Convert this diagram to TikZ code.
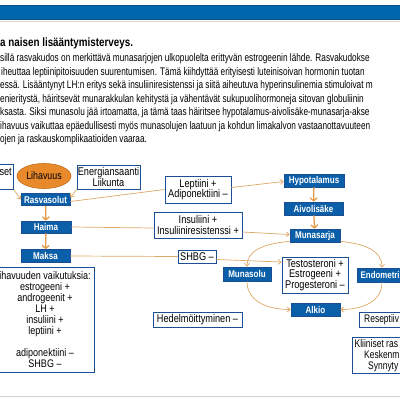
\documentclass[tikz,border=0pt]{standalone}
\usepackage{fontspec}
\setmainfont{Liberation Sans}[FakeStretch=0.82]
\newfontfamily\parafont{Liberation Sans}[FakeStretch=0.75]
\newfontfamily\edgefont{Liberation Sans}[FakeStretch=0.77]
\usetikzlibrary{arrows.meta,shapes.geometric}
\definecolor{bbar}{HTML}{0067AC}
\definecolor{bdark}{HTML}{0A4E8C}
\definecolor{bfill}{HTML}{0B5FA8}
\definecolor{bline}{HTML}{1B4F93}
\definecolor{oarrow}{HTML}{E39B45}
\definecolor{oline}{HTML}{DDA866}
\definecolor{ofill}{HTML}{E8892C}
\definecolor{oedge}{HTML}{C46A12}
\begin{document}
\begin{tikzpicture}[x=1pt,y=-1pt,
  bluebox/.style={fill=bfill, draw=bline, line width=0.6pt, text=white, font=\bfseries\fontsize{9.8}{10}\selectfont, inner sep=0pt, minimum height=13pt},
  wbox/.style={fill=white, draw=bline, line width=0.9pt, text=black, font=\fontsize{11.2}{10.6}\selectfont, inner sep=0pt, align=center},
  txt/.style={inner sep=0pt, font=\fontsize{11.2}{10.6}\selectfont},
  edgetxt/.style={inner sep=0pt, font=\edgefont\fontsize{11}{10.6}\selectfont},
  conn/.style={draw=oline, line width=0.7pt},
  arr/.style={conn, -{Straight Barb[length=3pt,width=5pt]}},
  downarr/.style={draw=oarrow, line width=1.3pt, -{Straight Barb[length=3pt,width=7pt]}},
  para/.style={anchor=base west, inner sep=0pt, font=\parafont\fontsize{11}{12}\selectfont},
]
\useasboundingbox (0,0) rectangle (400,400);
\clip (0,0) rectangle (400,400);
\fill[white] (0,0) rectangle (400,400);
% top bar
\fill[bbar] (0,5) rectangle (400,20);
\draw[bdark, line width=0.8pt] (0,5.4) -- (400,5.4) (0,19.6) -- (400,19.6);
\draw[gray!30, line width=0.5pt] (0,21.5) -- (400,21.5);
% title and paragraph
\node[anchor=base west, inner sep=0pt, font=\bfseries\fontsize{12}{13}\selectfont] (title) at (0,46) {a naisen lisääntymisterveys.};
\node[para] (p1) at (0,61) {sillä rasvakudos on merkittävä munasarjojen ulkopuolelta erittyvän estrogeenin lähde. Rasvakudokse};
\node[para] (p2) at (1,75) {iheuttaa leptiinipitoisuuden suurentumisen. Tämä kiihdyttää erityisesti luteinisoivan hormonin tuotan};
\node[para] (p3) at (0,88) {essä. Lisääntynyt LH:n eritys sekä insuliiniresistenssi ja siitä aiheutuva hyperinsulinemia stimuloivat m};
\node[para] (p4) at (0,102) {enieritystä, häiritsevät munarakkulan kehitystä ja vähentävät sukupuolihormoneja sitovan globuliinin};
\node[para] (p5) at (0,115) {ksasta. Siksi munasolu jää irtoamatta, ja tämä taas häiritsee hypotalamus-aivolisäke-munasarja-akse};
\node[para] (p6) at (0,129) {ihavuus vaikuttaa epäedullisesti myös munasolujen laatuun ja kohdun limakalvon vastaanottavuuteen};
\node[para] (p7) at (0,142) {ojen ja raskauskomplikaatioiden vaaraa.};
% left column
\node[wbox, anchor=north east, minimum width=44pt, minimum height=25pt] (setbox) at (14,164) {};
\node[txt, anchor=base east] (settxt) at (12,175.5) {set};
\node[ellipse, fill=ofill, draw=oedge, line width=0.6pt, minimum width=54pt, minimum height=25pt, inner sep=0pt, font=\fontsize{10.8}{10}\selectfont] (lih) at (44,176) {Lihavuus};
\node[wbox, minimum width=63pt, minimum height=24pt] (energ) at (108.5,177) {Energiansaanti\\Liikunta};
\node[bluebox, minimum width=49pt, minimum height=12pt] (rasva) at (45.5,199.5) {Rasvasolut};
\node[bluebox, minimum width=50pt, minimum height=12pt] (haima) at (46,227) {Haima};
\node[bluebox, minimum width=49pt] (maksa) at (45.5,256) {Maksa};
\node[wbox, minimum width=98pt, minimum height=105pt, font=\fontsize{11}{11}\selectfont] (lihv) at (45,319.5) {ihavuuden vaikutuksia:\\estrogeeni +\\androgeenit +\\LH +\\insuliini +\\leptiini +\\[11pt]adiponektiini –\\SHBG –};
% middle column
\node[wbox, minimum width=66pt, minimum height=27pt] (lept) at (198,189.5) {Leptiini +\\Adiponektiini –};
\node[wbox, minimum width=88pt, minimum height=26pt] (insul) at (198,225) {Insuliini +\\Insuliiniresistenssi +};
\node[wbox, minimum width=38pt, minimum height=13pt] (shbg) at (197,256.5) {SHBG –};
\node[wbox, minimum width=89pt, minimum height=15pt] (hedel) at (197.5,319.5) {Hedelmöittyminen –};
% right column
\node[bluebox, minimum width=60pt] (hypo) at (314,180.5) {Hypotalamus};
\node[bluebox, minimum width=59pt] (aivo) at (313.5,208.5) {Aivolisäke};
\node[bluebox, minimum width=50pt] (muna) at (315,235.5) {Munasarja};
\node[bluebox, minimum width=48pt, minimum height=14pt] (munasolu) at (247,274) {Munasolu};
\node[wbox, minimum width=66pt, minimum height=36pt] (testo) at (315,275) {Testosteroni +\\Estrogeeni +\\Progesteroni –};
\node[bluebox, minimum width=49pt] (alkio) at (315.5,309.5) {Alkio};
\node[bluebox, anchor=west, minimum width=64pt, minimum height=14pt] (endo) at (357,275) {};
\node[anchor=west, inner sep=0pt, text=white, font=\bfseries\fontsize{9.6}{10}\selectfont] (endotxt) at (360.5,275) {Endometri};
\node[wbox, anchor=west, minimum width=64pt, minimum height=15pt] (resep) at (359,319.5) {};
\node[edgetxt, anchor=west] (reseptxt) at (364,319.5) {Reseptiiv};
\node[wbox, anchor=north west, minimum width=64pt, minimum height=36pt] (klin) at (352,337) {};
\node[edgetxt, anchor=base west] (k1) at (354.5,347) {Kliiniset ras};
\node[edgetxt, anchor=base west] (k2) at (364,358) {Keskenm};
\node[edgetxt, anchor=base west] (k3) at (368,369) {Synnyty};
% connectors
\draw[downarr] (rasva) -- (haima);
\draw[downarr] (haima) -- (maksa);
\draw[downarr] (hypo) -- (aivo);
\draw[downarr] (aivo) -- (muna);
\draw[arr] (setbox.south east) -- (rasva.west);
\draw[arr] (energ.south west) -- ([yshift=2pt]rasva.east);
\draw[conn] ([yshift=-2pt]rasva.east) -- (lept.west);
\draw[arr] ([yshift=2pt]lept.east) -- ([yshift=-1pt]hypo.west);
\draw[conn] (haima.east) -- ([yshift=-3pt]insul.west);
\draw[arr] ([yshift=-7pt]insul.east) -- ([yshift=1pt]muna.west);
\draw[conn] (maksa.east) -- (shbg.west);
\draw[arr] ([yshift=-3pt]shbg.east) -- ([yshift=13pt]testo.west);
\draw[arr] ([yshift=1pt]muna.south west) .. controls (262,244) and (247,251) .. (munasolu.north);
\draw[arr] ([yshift=1pt]muna.south east) .. controls (366,244) and (382,251) .. ([xshift=25pt]endo.north west);
\draw[arr] (munasolu.south) .. controls (247,300) and (265,309.5) .. (alkio.west);
\draw[arr] ([xshift=25pt]endo.south west) .. controls (382,300) and (365,309.5) .. (alkio.east);
% bottom rule
\draw[gray!35, line width=1pt] (0,396) -- (400,396);
\end{tikzpicture}
\end{document}
